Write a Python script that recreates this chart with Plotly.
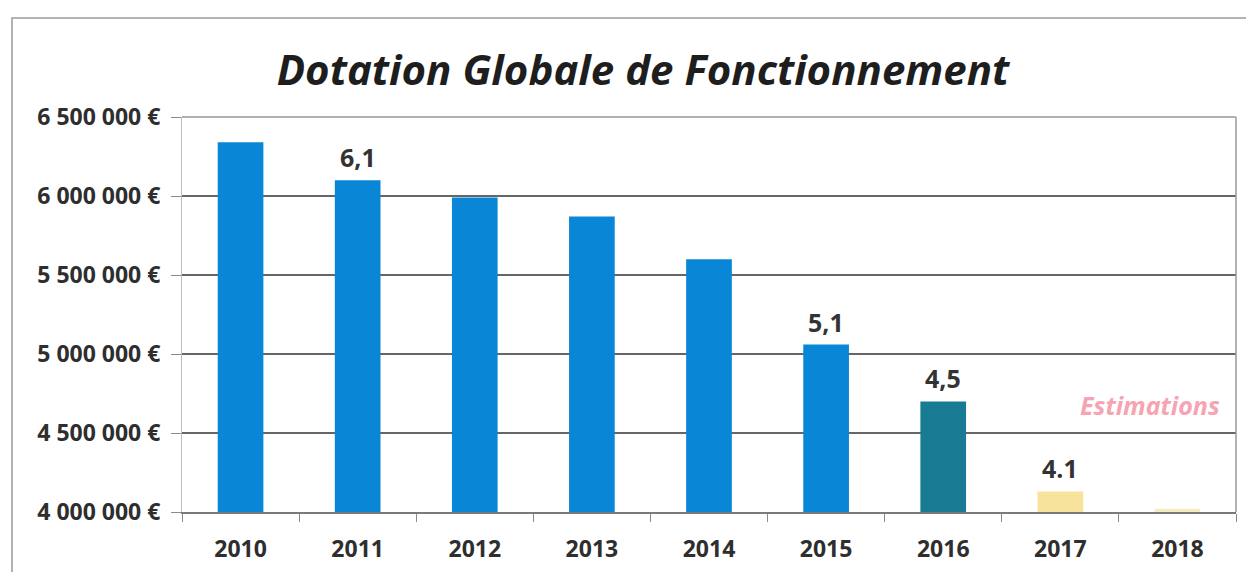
import plotly.graph_objects as go

years = ["2010", "2011", "2012", "2013", "2014", "2015", "2016", "2017", "2018"]
values = [6340000, 6100000, 5990000, 5870000, 5600000, 5060000, 4700000, 4130000, 4020000]
bar_colors = ["#0a86d6", "#0a86d6", "#0a86d6", "#0a86d6", "#0a86d6", "#0a86d6",
              "#187b93", "#f8e39c", "#f6ecc4"]
value_labels = ["", "6,1", "", "", "", "5,1", "4,5", "4.1", ""]
y_ticks = [4000000, 4500000, 5000000, 5500000, 6000000, 6500000]
y_tick_text = ["4 000 000 €", "4 500 000 €", "5 000 000 €", "5 500 000 €", "6 000 000 €", "6 500 000 €"]

font_family = "Open Sans, Lato, sans-serif"

fig = go.Figure()
fig.add_trace(go.Bar(
    x=years, y=values, marker=dict(color=bar_colors, line=dict(width=0)),
    hoverinfo="x+y",
))

# category axis: annotation x given as category index
for i, (v, lab) in enumerate(zip(values, value_labels)):
    if lab:
        fig.add_annotation(x=i, y=v, xref="x", yref="y", text="<b>" + lab + "</b>", showarrow=False,
                           yanchor="bottom", yshift=4,
                           font=dict(family=font_family, size=25, color="#333333"))

fig.add_annotation(xref="paper", yref="paper", x=0.987, y=0.271, text="<b><i>Estimations</i></b>",
                   showarrow=False, xanchor="right", yanchor="middle",
                   font=dict(family=font_family, size=25, color="#f6a3b2"))

W, H = 1246, 564
fig.update_layout(
    width=W, height=H,
    margin=dict(l=174, r=18, t=109, b=60, autoexpand=False),
    paper_bgcolor="white", plot_bgcolor="white",
    bargap=0.61,
    showlegend=False,
    title=dict(text="<b><i>Dotation Globale de Fonctionnement</i></b>", x=(643 - 8) / W, xanchor="center",
               y=1 - (70 - 8) / H, yanchor="middle",
               font=dict(family=font_family, size=42, color="#1e1e1e")),
    font=dict(family=font_family, color="#2e2e2e"),
    xaxis=dict(
        type="category", categoryorder="array", categoryarray=years,
        range=[-0.5, len(years) - 0.5], automargin=False,
        showline=True, linecolor="#7a7a7a", linewidth=2,
        ticks="outside", ticklen=8, tickcolor="#8a8a8a", tickson="boundaries",
        tickfont=dict(family=font_family, size=23, color="#2e2e2e"),
        ticklabelstandoff=15,
    ),
    yaxis=dict(
        range=[4000000, 6500000], tickvals=y_ticks, ticktext=y_tick_text, automargin=False,
        showgrid=True, gridcolor="#666666", gridwidth=2,
        showline=True, linecolor="#bdbdbd", linewidth=1,
        ticks="outside", ticklen=10, tickcolor="#8a8a8a",
        tickfont=dict(family=font_family, size=23, color="#2e2e2e"),
        ticklabelstandoff=6, zeroline=False,
    ),
)
fig.update_xaxes(tickfont_weight="bold")
fig.update_yaxes(tickfont_weight="bold")

# right border of plot area and outer frame
fig.add_shape(type="line", xref="paper", yref="paper", x0=1, x1=1, y0=0, y1=1,
              line=dict(color="#9a9a9a", width=1.5))
fig.add_shape(type="line", xref="paper", yref="paper", x0=0, x1=1, y0=1, y1=1,
              line=dict(color="#b0b0b0", width=2))
fig.add_shape(type="rect", xref="paper", yref="paper", x0=-0.1613, x1=1.0133, y0=-0.16, y1=1.2506,
              line=dict(color="#9a9a9a", width=1.5))

fig.write_html("out.html")
